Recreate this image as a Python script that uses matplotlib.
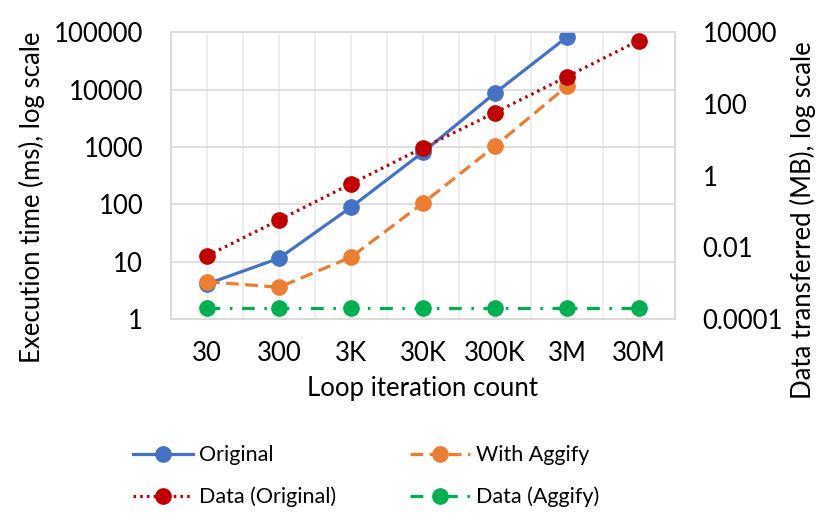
import matplotlib.pyplot as plt
import numpy as np
from matplotlib.ticker import FixedLocator, NullLocator

plt.rcParams["font.family"] = ["Lato", "DejaVu Sans"]

categories = ["30", "300", "3K", "30K", "300K", "3M", "30M"]
original_ms = [4.1, 11.5, 89, 810, 8650, 82000, np.nan]
aggify_ms = [4.5, 3.6, 12, 105, 1030, 11400, np.nan]
data_original_mb = [0.0058, 0.058, 0.59, 6.0, 57, 575, 5850]
data_aggify_mb = [0.0002, 0.0002, 0.0002, 0.0002, 0.0002, 0.0002, 0.0002]

BLUE = "#4472C4"
ORANGE = "#ED7D31"
RED = "#C00000"
GREEN = "#00B050"
GRID = "#D9D9D9"
FS = 18.5

x = np.arange(len(categories))

fig = plt.figure(figsize=(8.3, 5.19), dpi=100)
ax = fig.add_axes([0.206, 0.385, 0.607, 0.553])
ax2 = ax.twinx()

ms = 11
lw = 2.3
l1, = ax.plot(x, original_ms, color=BLUE, lw=lw, marker="o", ms=ms,
              label="Original", zorder=3)
l2, = ax.plot(x, aggify_ms, color=ORANGE, lw=lw, ls=(0, (4, 2)),
              marker="o", ms=ms, label="With Aggify", zorder=3)
l3, = ax2.plot(x, data_original_mb, color=RED, lw=lw, ls=(0, (0.8, 1.3)),
               marker="o", ms=ms, label="Data (Original)", zorder=3)
l4, = ax2.plot(x, data_aggify_mb, color=GREEN, lw=lw,
               ls=(0, (4, 3, 0.8, 3)), marker="o", ms=ms,
               label="Data (Aggify)", zorder=3)

ax.set_yscale("log")
ax.set_ylim(1, 100000)
ax.yaxis.set_major_locator(FixedLocator([1, 10, 100, 1000, 10000, 100000]))
ax.yaxis.set_minor_locator(NullLocator())
ax.set_yticklabels(["1", "10", "100", "1000", "10000", "100000"])

ax2.set_yscale("log")
ax2.set_ylim(0.0001, 10000)
ax2.yaxis.set_major_locator(FixedLocator([0.0001, 0.01, 1, 100, 10000]))
ax2.yaxis.set_minor_locator(NullLocator())
ax2.set_yticklabels(["0.0001", "0.01", "1", "100", "10000"])

ax.set_xlim(-0.5, len(categories) - 0.5)
ax.set_xticks(x)
ax.set_xticklabels(categories)
ax.set_xticks(np.arange(-0.5, len(categories), 1.0), minor=True)

ax.grid(axis="y", which="major", color=GRID, lw=1.2)
ax.grid(axis="x", which="both", color="#EBEBEB", lw=1.2)
ax.set_axisbelow(True)

for a in (ax, ax2):
    for s in a.spines.values():
        s.set_color(GRID)
        s.set_linewidth(1.2)
    a.tick_params(which="both", length=0, labelsize=FS, pad=20)
ax.tick_params(axis="x", pad=16)

ax.set_xlabel("Loop iteration count", fontsize=FS, labelpad=7)

# axis titles sit a bit below the plot centre, as in the source chart
fig.text(32 / 830, 1 - 197 / 519, "Execution time (ms), log scale",
         rotation=90, ha="center", va="center", fontsize=FS)
fig.text(803 / 830, 1 - 220 / 519, "Data transferred (MB), log scale",
         rotation=90, ha="center", va="center", fontsize=FS)

fig.legend([l1, l3, l2, l4],
           ["Original", "Data (Original)", "With Aggify", "Data (Aggify)"],
           loc="upper left", bbox_to_anchor=(0.137, 0.179), ncol=2,
           frameon=False, fontsize=15.5, columnspacing=3.45,
           handlelength=2.8, handletextpad=0.25, labelspacing=0.99)

fig.savefig("out.png", dpi=100)
